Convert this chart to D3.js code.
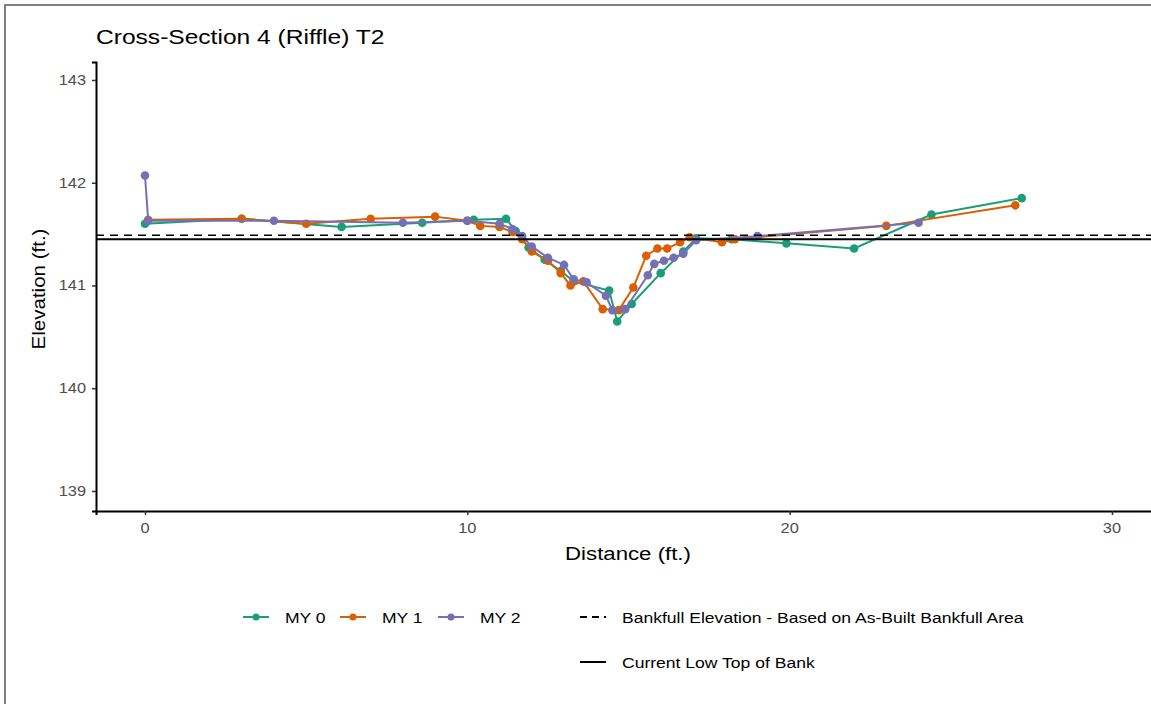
<!DOCTYPE html>
<html><head><meta charset="utf-8">
<script src="https://cdn.jsdelivr.net/npm/d3@7"></script>
<style>body{margin:0;background:#fff;}svg{display:block;font-family:"Liberation Sans",Arial,sans-serif;}</style>
</head><body>
<script>
const title = "Cross-Section 4 (Riffle) T2";
const seriesNames = ["MY 0", "MY 1", "MY 2"];
const seriesColors = ["#1b9e77", "#d95f02", "#7570b3"];
const my0 = [[0,141.60],[3.0,141.65],[6.1,141.57],[8.6,141.61],[10.2,141.64],[11.2,141.65],[11.5,141.53],[11.9,141.37],[12.4,141.25],[12.9,141.14],[13.3,141.04],[14.4,140.95],[14.65,140.65],[15.1,140.82],[16.0,141.12],[16.7,141.33],[17.1,141.46],[18.2,141.45],[19.9,141.41],[22.0,141.36],[24.4,141.69],[27.2,141.85]];
const my1 = [[0.1,141.64],[3.0,141.65],[5.0,141.60],[7.0,141.65],[9.0,141.67],[10.0,141.63],[10.4,141.58],[11.0,141.57],[11.4,141.52],[11.7,141.45],[12.0,141.33],[12.5,141.24],[12.9,141.12],[13.2,141.00],[13.6,141.04],[14.2,140.77],[14.7,140.76],[15.15,140.98],[15.55,141.29],[15.9,141.36],[16.2,141.36],[16.6,141.42],[16.9,141.47],[17.9,141.42],[18.3,141.45],[23.0,141.58],[27.0,141.78]];
const my2 = [[0,142.07],[0.1,141.63],[4.0,141.63],[8.0,141.61],[10.0,141.63],[11.0,141.60],[11.4,141.55],[11.7,141.48],[12.0,141.38],[12.5,141.27],[13.0,141.20],[13.3,141.06],[13.7,141.03],[14.3,140.90],[14.5,140.76],[14.9,140.77],[15.6,141.10],[15.8,141.21],[16.1,141.24],[16.4,141.27],[16.7,141.31],[17.1,141.44],[19.0,141.48],[24.0,141.61]];
const bankfullElev = 141.49;
const lowTopBank = 141.45;
const xTicks = [0, 10, 20, 30];
const yTicks = [139, 140, 141, 142, 143];
const xLabel = "Distance (ft.)";
const yLabel = "Elevation (ft.)";
const legendLine1 = "Bankfull Elevation - Based on As-Built Bankfull Area";
const legendLine2 = "Current Low Top of Bank";

const W = 1151, H = 704;
const SX = 1.17; // horizontal text stretch seen in the reference
const svg = d3.select("body").append("svg").attr("width", W).attr("height", H);
svg.append("rect").attr("width", W).attr("height", H).attr("fill", "#fff");
svg.append("rect").attr("x", 5).attr("y", 5).attr("width", W + 50).attr("height", H + 50)
  .attr("fill", "none").attr("stroke", "#808080").attr("stroke-width", 2);

function txt(xp, yp, s, size, anchor, fill) {
  return svg.append("text").attr("transform", `translate(${xp},${yp}) scale(${SX},1)`)
    .attr("text-anchor", anchor || "start").attr("font-size", size).attr("fill", fill || "#000").text(s);
}

const x = d3.scaleLinear().domain([-1.52, 31.49]).range([96, 1160]);
const y = d3.scaleLinear().domain([138.805, 143.175]).range([511, 62]);

// axes
const gx = svg.append("g").attr("transform", "translate(0,511)")
  .call(d3.axisBottom(x).tickValues(xTicks).tickSize(4).tickFormat(""));
const gy = svg.append("g").attr("transform", "translate(96,0)")
  .call(d3.axisLeft(y).tickValues(yTicks).tickSize(4).tickFormat(""));
[gx, gy].forEach(g => {
  g.select(".domain").attr("stroke", "#000").attr("stroke-width", 2);
  g.selectAll(".tick line").attr("stroke", "#333").attr("stroke-width", 1.5);
});
xTicks.forEach(t => txt(x(t), 533, String(t), 14, "middle", "#4d4d4d"));
yTicks.forEach(t => txt(86, y(t) + 5, String(t), 14, "end", "#4d4d4d"));

// series
const line = d3.line().x(d => x(d[0])).y(d => y(d[1]));
const series = [my0, my1, my2];
series.forEach((data, i) => {
  svg.append("path").datum(data).attr("d", line).attr("fill", "none")
    .attr("stroke", seriesColors[i]).attr("stroke-width", 2);
  svg.append("g").selectAll("circle").data(data).join("circle")
    .attr("cx", d => x(d[0])).attr("cy", d => y(d[1])).attr("r", 4.3)
    .attr("fill", seriesColors[i]);
});

// reference lines
svg.append("line").attr("x1", 96).attr("x2", W).attr("y1", y(bankfullElev)).attr("y2", y(bankfullElev))
  .attr("stroke", "#000").attr("stroke-width", 1.5).attr("stroke-dasharray", "8,6");
svg.append("line").attr("x1", 96).attr("x2", W).attr("y1", y(lowTopBank)).attr("y2", y(lowTopBank))
  .attr("stroke", "#000").attr("stroke-width", 2);

// titles
txt(96, 44, title, 21, "start");
txt(628, 560, xLabel, 19, "middle");
svg.append("text").attr("transform", "translate(45,289) rotate(-90) scale(1.08,1)").attr("text-anchor", "middle")
  .attr("font-size", 19).attr("fill", "#000").text(yLabel);

// legend
const legY = 617;
const keyX = [243, 340, 438];
const labX = [285, 382, 480];
seriesNames.forEach((n, i) => {
  svg.append("line").attr("x1", keyX[i]).attr("x2", keyX[i] + 26).attr("y1", legY).attr("y2", legY)
    .attr("stroke", seriesColors[i]).attr("stroke-width", 2);
  svg.append("circle").attr("cx", keyX[i] + 13).attr("cy", legY).attr("r", 3.5).attr("fill", seriesColors[i]);
  txt(labX[i], legY + 5.5, n, 15, "start");
});
svg.append("line").attr("x1", 580).attr("x2", 606).attr("y1", legY).attr("y2", legY)
  .attr("stroke", "#000").attr("stroke-width", 2).attr("stroke-dasharray", "7,5");
txt(622, legY + 5.5, legendLine1, 15, "start");
svg.append("line").attr("x1", 580).attr("x2", 606).attr("y1", 662).attr("y2", 662)
  .attr("stroke", "#000").attr("stroke-width", 2);
txt(622, 667.5, legendLine2, 15, "start");
</script>
</body></html>
